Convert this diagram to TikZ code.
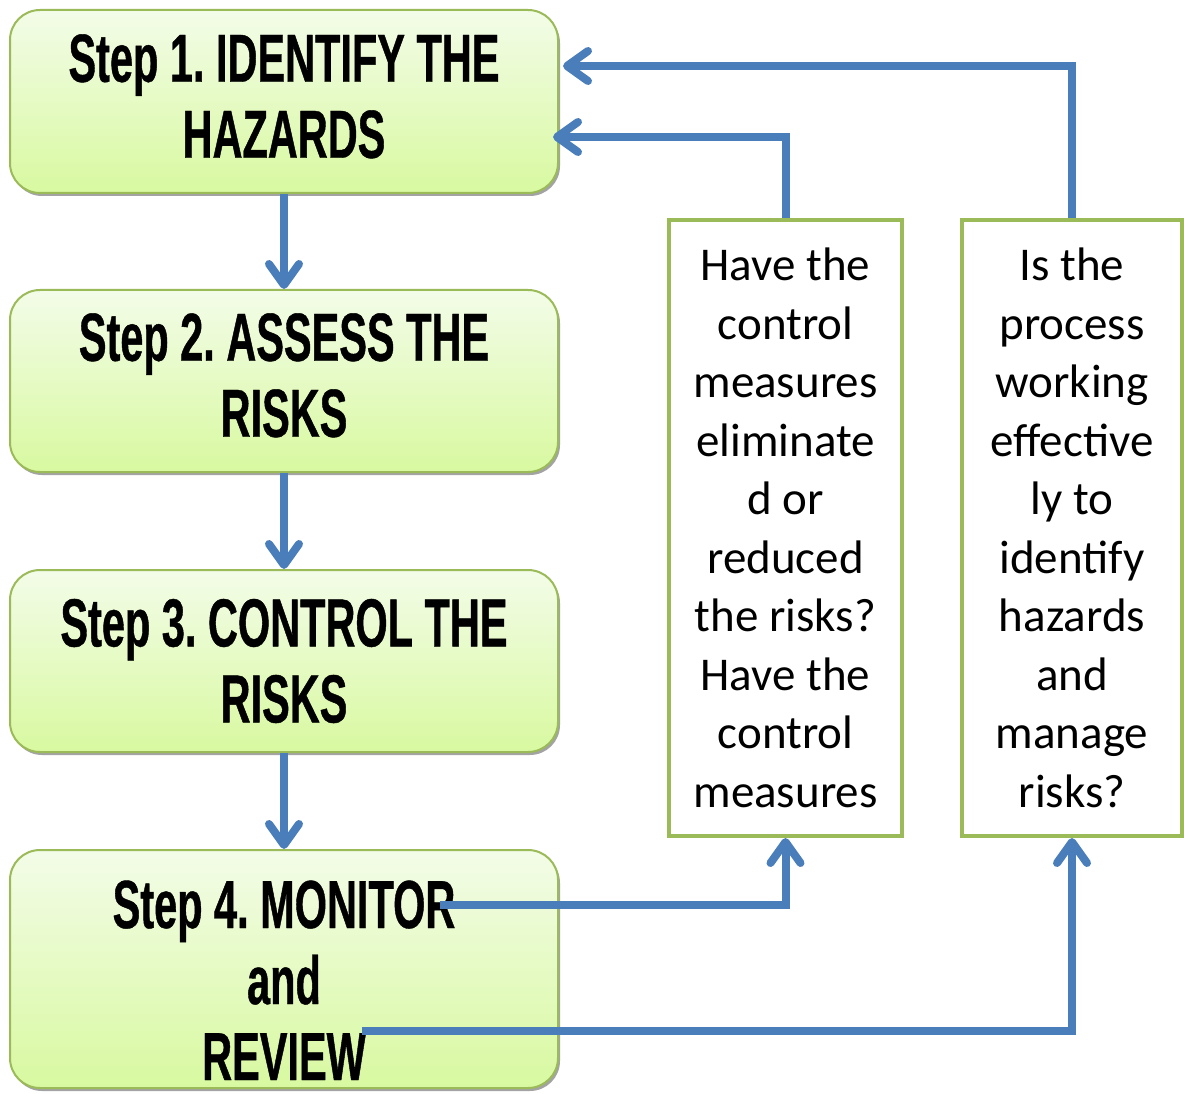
\documentclass[tikz,border=0pt]{standalone}
\usepackage{fontspec}
\usetikzlibrary{arrows.meta,shadows,calc}
\newfontfamily\headfont{Liberation Sans}[FakeStretch=0.61,FakeBold=0.6]
\newfontfamily\qfont{Carlito}
\definecolor{linkblue}{HTML}{4A7EBB}
\definecolor{boxgreen}{HTML}{9BBB59}
\definecolor{topfill}{HTML}{F3FCE8}
\definecolor{botfill}{HTML}{D8F9A0}
\tikzset{
  stepbox/.style={rounded corners=30pt, draw=boxgreen, line width=2pt,
    top color=topfill, bottom color=botfill, minimum width=548pt,
    drop shadow={shadow xshift=2pt, shadow yshift=-3pt, fill=black!45, opacity=0.8},
    align=center, font=\headfont\bfseries\frenchspacing\fontsize{68}{76}\selectfont, inner sep=0pt},
  qbox/.style={draw=boxgreen, line width=4pt, fill=white, minimum height=616pt,
    align=center, font=\qfont\fontsize{47}{58.5}\selectfont, inner sep=0pt},
  conn/.style={draw=linkblue, line width=8pt,
    -{Straight Barb[length=21pt, width=30pt, line cap=round, line join=round]}},
}
\begin{document}
\begin{tikzpicture}[x=1pt,y=-1pt]
\useasboundingbox (0,0) rectangle (1184,1094);
\node[stepbox, minimum height=183pt] (b1) at (284,101.5) {Step 1. IDENTIFY THE\\HAZARDS\rule[-11pt]{0pt}{0pt}};
\node[stepbox, minimum height=182pt] (b2) at (284,381) {Step 2. ASSESS THE\\RISKS\rule[-12pt]{0pt}{0pt}};
\node[stepbox, minimum height=182pt] (b3) at (284,661) {Step 3. CONTROL THE\\RISKS};
\node[stepbox, minimum height=238pt] (b4) at (284,969) {\rule{0pt}{70pt}Step 4. MONITOR\\and\\REVIEW};
\node[qbox, minimum width=233pt] (qa) at (785.5,528) {Have the\\control\\measures\\eliminate\\d or\\reduced\\the risks?\\Have the\\control\\measures};
\node[qbox, minimum width=220pt] (qb) at (1072,528) {Is the\\process\\working\\effective\\ly to\\identify\\hazards\\and\\manage\\risks?};
\draw[conn] (b1.south) -- (b2.north);
\draw[conn] (b2.south) -- (b3.north);
\draw[conn] (b3.south) -- (b4.north);
\draw[conn] (qa.north) |- ([yshift=-35.5pt,xshift=-6pt]b1.east);
\draw[conn] (qb.north) |- ([yshift=35.5pt,xshift=4pt]b1.east);
\coordinate (m1) at (440,905);
\coordinate (m2) at (362,1031);
\draw[conn] (m1) -| (qa.south);
\draw[conn] (m2) -| (qb.south);
\end{tikzpicture}
\end{document}
